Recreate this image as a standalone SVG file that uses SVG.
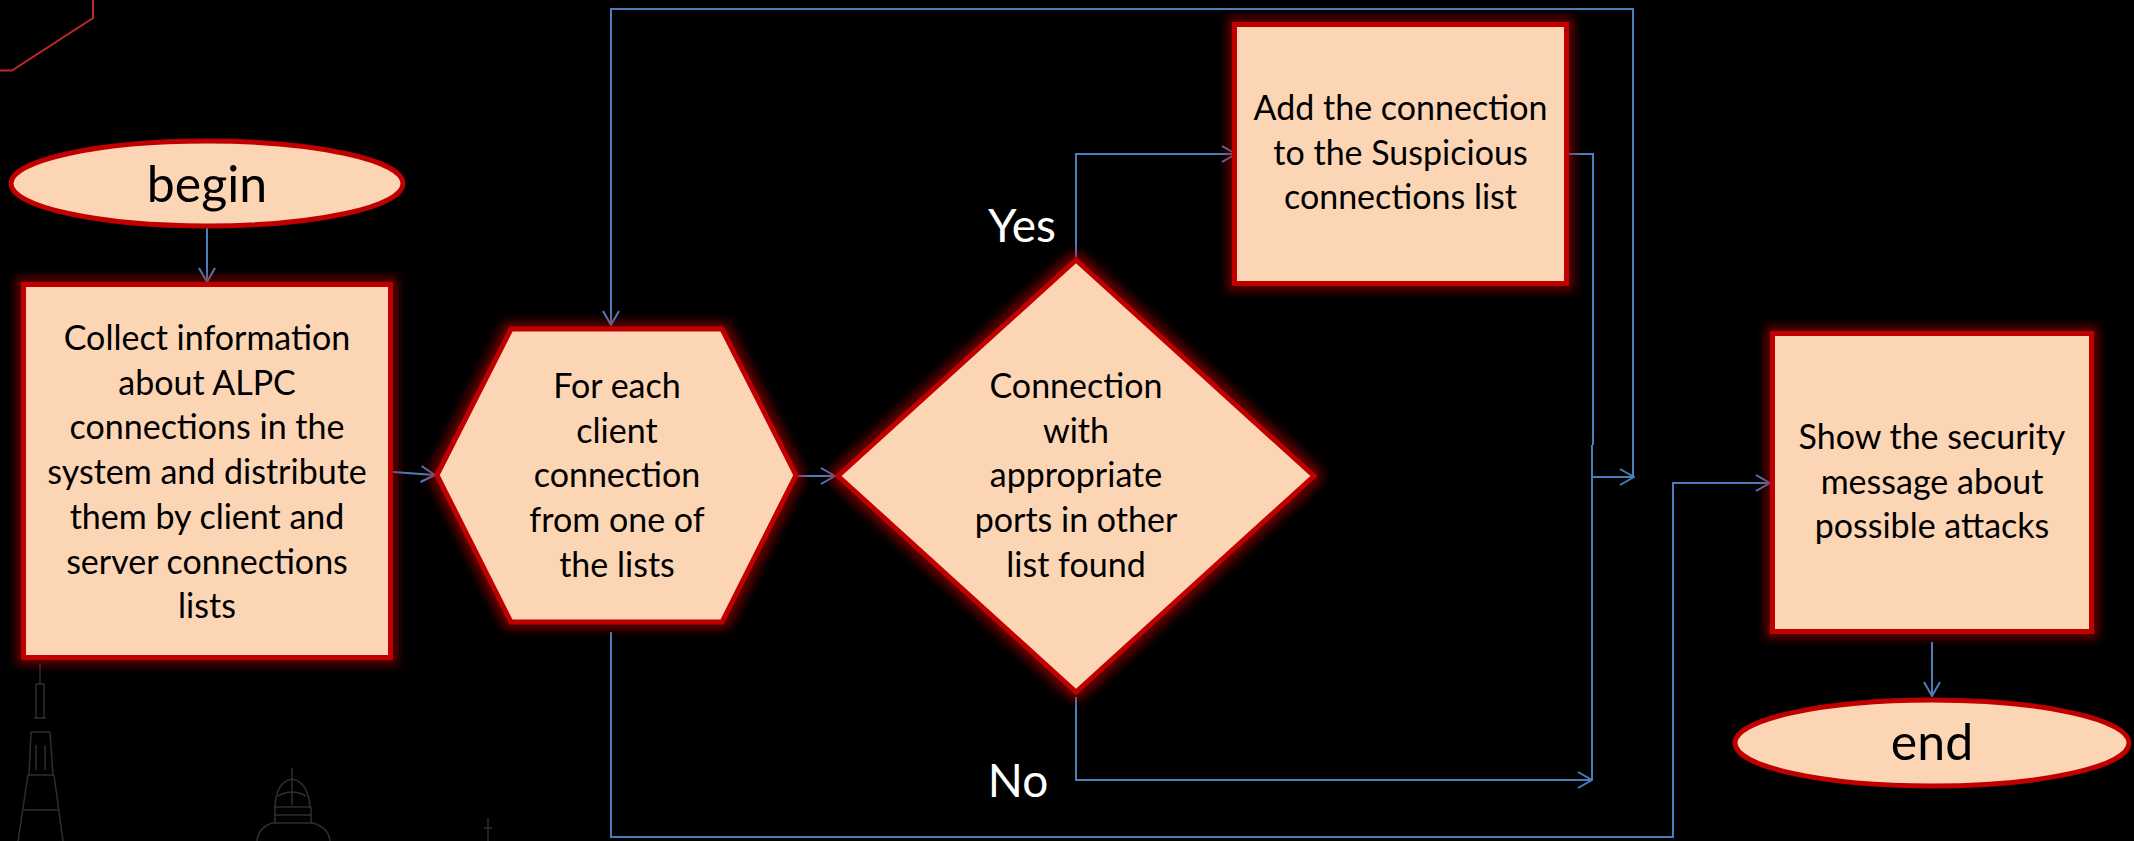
<svg xmlns="http://www.w3.org/2000/svg" width="2134" height="841" viewBox="0 0 2134 841">
  <style>
    .shape { fill: #fcd5b5; stroke: #c00000; stroke-width: 5; }
    .glow { filter: url(#glow); }
    .label { font-family: Lato, "Liberation Sans", sans-serif; font-size: 34px; fill: #000; text-anchor: middle; }
    .term { font-family: Lato, "Liberation Sans", sans-serif; font-size: 50px; fill: #000; text-anchor: middle; }
    .branch { font-family: Lato, "Liberation Sans", sans-serif; font-size: 46px; fill: #fff; text-anchor: middle; }
    .conn { fill: none; stroke: #4a7ebb; stroke-width: 2; }
    .arrow { marker-end: url(#open-arrow); }
    .sketch { fill: none; stroke: #332d2b; stroke-width: 1.5; }
  </style>
  <defs>
    <filter id="glow" x="-20%" y="-20%" width="140%" height="140%">
      <feMorphology in="SourceAlpha" operator="dilate" radius="5" result="wide"/>
      <feGaussianBlur in="wide" stdDeviation="5" result="soft"/>
      <feFlood flood-color="#c00000" flood-opacity="0.5"/>
      <feComposite in2="soft" operator="in" result="halo"/>
      <feMerge>
        <feMergeNode in="halo"/>
        <feMergeNode in="SourceGraphic"/>
      </feMerge>
    </filter>
    <marker id="open-arrow" viewBox="0 0 16 18" refX="15" refY="9" markerWidth="16" markerHeight="18" markerUnits="userSpaceOnUse" orient="auto">
      <path d="M1,1 L15,9 L1,17" fill="none" stroke="#4a7ebb" stroke-width="2"/>
    </marker>
  </defs>

  <rect x="0" y="0" width="2134" height="841" fill="#000"/>

  <!-- corner ornament -->
  <polyline points="0,70.5 12,70.5 93,18 93,0" fill="none" stroke="#c0282d" stroke-width="2"/>

  <!-- faint skyline sketch along the bottom edge -->
  <g id="skyline" class="sketch">
    <path d="M40,663 V684 M36,684 H44 V718 M36,684 V718 M34,718 H46 M31,732 H50 M31,732 L29,775 M50,732 L53,775 M28,775 H54 M28,775 L18,841 M54,775 L63,841 M24,810 H58 M36,745 V770 M45,745 V770"/>
    <path d="M292,768 V780 M275,807 Q276,782 292,779 Q308,782 310,807 M292,780 V805 M278,796 Q292,788 306,796 M274,807 H311 M275,807 V823 M311,807 V823 M274,815 H311 M272,823 H313 M272,823 Q258,828 257,841 M313,823 Q329,828 330,841"/>
    <path d="M488,818 V841 M484,828 H492"/>
  </g>

  <g id="connectors">
    <path class="conn arrow" d="M207,228 V282"/>
    <path class="conn arrow" d="M393,472 L435,475"/>
    <path class="conn arrow" d="M798,476 H835"/>
    <path class="conn arrow" d="M1076,257 V154 H1236"/>
    <path class="conn" d="M1566,154 H1593 V445"/>
    <path class="conn arrow" d="M1076,697 V780 H1592"/>
    <path class="conn" d="M1592,780 V445"/>
    <path class="conn arrow" d="M1592,477 H1634"/>
    <path class="conn arrow" d="M1633,477 V9 H611 V325"/>
    <path class="conn arrow" d="M611,632 V837 H1673 V483 H1770"/>
    <path class="conn arrow" d="M1932,642 V696"/>
  </g>

  <g id="branch-labels">
    <text class="branch" x="1022" y="242">Yes</text>
    <text class="branch" x="1018" y="797">No</text>
  </g>

  <g id="begin">
    <ellipse class="shape" cx="207" cy="183.5" rx="196" ry="42.5"/>
    <text class="term" x="207" y="202">begin</text>
  </g>

  <g id="collect">
    <rect class="shape glow" x="23.5" y="284.5" width="367" height="373"/>
    <text class="label" x="207" y="350">Collect information</text>
    <text class="label" x="207" y="394.7">about ALPC</text>
    <text class="label" x="207" y="439.4">connections in the</text>
    <text class="label" x="207" y="484.1">system and distribute</text>
    <text class="label" x="207" y="528.8">them by client and</text>
    <text class="label" x="207" y="573.5">server connections</text>
    <text class="label" x="207" y="618.2">lists</text>
  </g>

  <g id="for-each">
    <polygon class="shape glow" points="437,475 511,329 722,329 796,475 722,622 511,622"/>
    <text class="label" x="617" y="398">For each</text>
    <text class="label" x="617" y="442.7">client</text>
    <text class="label" x="617" y="487.4">connection</text>
    <text class="label" x="617" y="532.1">from one of</text>
    <text class="label" x="617" y="576.8">the lists</text>
  </g>

  <g id="match-found">
    <polygon class="shape glow" points="1076,260 1314,476 1076,692 838,476"/>
    <text class="label" x="1076" y="398">Connection</text>
    <text class="label" x="1076" y="442.7">with</text>
    <text class="label" x="1076" y="487.4">appropriate</text>
    <text class="label" x="1076" y="532.1">ports in other</text>
    <text class="label" x="1076" y="576.8">list found</text>
  </g>

  <g id="add-suspicious">
    <rect class="shape glow" x="1234.5" y="24.5" width="332" height="259"/>
    <text class="label" x="1400.5" y="120">Add the connection</text>
    <text class="label" x="1400.5" y="164.7">to the Suspicious</text>
    <text class="label" x="1400.5" y="209.4">connections list</text>
  </g>

  <g id="show-message">
    <rect class="shape glow" x="1772.5" y="333.5" width="319" height="298"/>
    <text class="label" x="1932" y="449">Show the security</text>
    <text class="label" x="1932" y="493.7">message about</text>
    <text class="label" x="1932" y="538.4">possible attacks</text>
  </g>

  <g id="end">
    <ellipse class="shape" cx="1932" cy="743" rx="197" ry="43"/>
    <text class="term" x="1932" y="760">end</text>
  </g>
</svg>
